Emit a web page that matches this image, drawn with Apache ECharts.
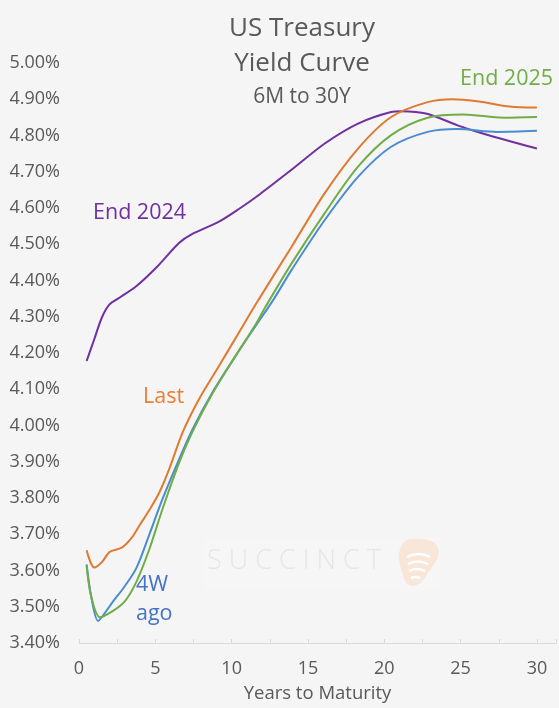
<!DOCTYPE html>
<html>
<head>
<meta charset="utf-8">
<script src="https://cdn.jsdelivr.net/npm/echarts@6/dist/echarts.min.js"></script>
<style>
  html, body { margin: 0; padding: 0; background: #f5f5f5; }
  #chart { width: 559px; height: 708px; }
</style>
</head>
<body>
<div id="chart"></div>
<script>
// years to maturity and yields (%)
const last = [
  [0.5, 3.656], [1.0, 3.608], [1.5, 3.623], [2.0, 3.651], [2.8, 3.663], [3.5, 3.693],
  [3.97, 3.725], [4.6, 3.766], [5.27, 3.816], [5.92, 3.881], [6.79, 3.981], [7.87, 4.073],
  [9.17, 4.164], [10.47, 4.256], [11.78, 4.348], [13.94, 4.494], [16.1, 4.641], [18.28, 4.764],
  [20.45, 4.851], [22.84, 4.892], [24.5, 4.900], [26.3, 4.893], [28.2, 4.880], [30, 4.877]
]
const fourWeeksAgo = [
  [0.5, 3.617], [0.8, 3.528], [1.25, 3.461], [1.7, 3.483], [2.2, 3.513], [2.9, 3.551],
  [3.75, 3.606], [4.51, 3.688], [5.48, 3.798], [6.57, 3.908], [7.44, 3.990], [8.74, 4.091],
  [10.26, 4.192], [11.56, 4.274], [12.75, 4.348], [13.94, 4.430], [16.1, 4.567], [18.28, 4.686],
  [20.45, 4.769], [22.84, 4.810], [24.8, 4.818], [27.4, 4.810], [30, 4.813]
]
const end2025 = [
  [0.5, 3.613], [0.8, 3.528], [1.37, 3.471], [2.2, 3.488], [3.0, 3.515], [3.75, 3.568],
  [4.6, 3.658], [5.5, 3.773], [6.57, 3.898], [7.44, 3.983], [8.74, 4.088], [10.26, 4.192],
  [11.56, 4.278], [12.2, 4.326], [13.94, 4.448], [16.1, 4.586], [18.28, 4.714], [20.45, 4.801],
  [22.84, 4.849], [25.2, 4.858], [27.8, 4.849], [30, 4.851]
]
const end2024 = [
  [0.5, 4.178], [1.0, 4.238], [1.5, 4.298], [2.0, 4.334], [2.67, 4.353], [3.75, 4.384],
  [5.05, 4.435], [6.57, 4.504], [7.4, 4.528], [9.2, 4.563], [10.5, 4.598], [11.78, 4.636],
  [13.94, 4.706], [16.1, 4.778], [18.28, 4.833], [20.45, 4.865], [21.1, 4.867], [22.8, 4.860],
  [24.8, 4.828], [26.5, 4.805], [30, 4.764]
]

const font = 'Open Sans'
const chart = echarts.init(document.getElementById('chart'))

function line(name, data, color) {
  return {
    name: name,
    type: 'line',
    data: data,
    smooth: 0.3,
    showSymbol: false,
    lineStyle: { color: color, width: 2 },
    silent: true
  }
}

// white stripes of the watermark logo
function stripe(x1, x2, y, bow) {
  return {
    type: 'bezierCurve', z: 1, silent: true,
    shape: { x1: x1, y1: y, x2: x2, y2: y, cpx1: (x1 + x2) / 2, cpy1: y - bow },
    style: { stroke: '#ffffff', lineWidth: 2.5, fill: null }
  }
}

chart.setOption({
  backgroundColor: '#f5f5f5',
  animation: false,
  textStyle: { fontFamily: font },
  title: {
    text: 'US Treasury\nYield Curve',
    subtext: '6M to 30Y',
    left: 297,
    textAlign: 'center',
    top: 6,
    itemGap: 4,
    textStyle: { fontFamily: font, fontSize: 26, fontWeight: 'normal', color: '#595959', lineHeight: 35 },
    subtextStyle: { fontFamily: font, fontSize: 21, color: '#595959', lineHeight: 24 }
  },
  grid: { left: 79, right: 0, top: 63, bottom: 63 },
  xAxis: {
    type: 'value',
    min: 0,
    max: 31.25,
    interval: 2.5,
    name: 'Years to Maturity',
    nameLocation: 'middle',
    nameGap: 41,
    nameTextStyle: { fontFamily: font, fontSize: 18.5, color: '#595959' },
    axisLine: { show: true, lineStyle: { color: '#d9d9d9', width: 1 } },
    axisTick: { show: true, inside: true, length: 4, lineStyle: { color: '#d9d9d9' } },
    splitLine: { show: false },
    axisLabel: {
      fontFamily: font, fontSize: 18, color: '#595959', margin: 17,
      formatter: v => (v % 5 === 0 ? String(v) : '')
    }
  },
  yAxis: {
    type: 'value',
    min: 3.4,
    max: 5.0,
    interval: 0.1,
    axisLine: { show: false },
    axisTick: { show: false },
    splitLine: { show: false },
    axisLabel: {
      fontFamily: font, fontSize: 18, color: '#595959', margin: 19,
      formatter: v => v.toFixed(2) + '%'
    }
  },
  series: [
    line('End 2024', end2024, '#7030a0'),
    line('4W ago', fourWeeksAgo, '#4a8cd0'),
    line('End 2025', end2025, '#70ad47'),
    line('Last', last, '#e07a30')
  ],
  graphic: [
    // watermark
    {
      type: 'rect', z: 0, silent: true,
      shape: { x: 205, y: 538, width: 235, height: 52 },
      style: { fill: '#f6f6f6' }
    },
    {
      type: 'text', left: 207, top: 548, z: 0, silent: true,
      style: { text: 'S U C C I N C T', fontFamily: font, fontSize: 27, fontWeight: 300, fill: '#e6e6e6' }
    },
    {
      type: 'polygon', z: 0, silent: true,
      shape: { points: [[402, 545], [420, 539], [438, 548], [430, 570], [413, 586], [402, 572]], smooth: 0.5 },
      style: { fill: '#f8e6d8' }
    },
    stripe(407, 430, 557, 6),
    stripe(408, 428, 564, 5),
    stripe(409, 425, 571, 4),
    stripe(411, 420, 578, 2),
    // series labels
    {
      type: 'text', left: 460, top: 68,
      style: { text: 'End 2025', fontFamily: font, fontSize: 21.5, fill: '#70ad47' }
    },
    {
      type: 'text', left: 93, top: 202,
      style: { text: 'End 2024', fontFamily: font, fontSize: 21.5, fill: '#7030a0' }
    },
    {
      type: 'text', left: 143, top: 386,
      style: { text: 'Last', fontFamily: font, fontSize: 21.5, fill: '#ed7d31' }
    },
    {
      type: 'text', left: 136, top: 570,
      style: { text: '4W\nago', fontFamily: font, fontSize: 21.5, fill: '#4472c4', lineHeight: 29 }
    }
  ]
})
</script>
</body>
</html>
